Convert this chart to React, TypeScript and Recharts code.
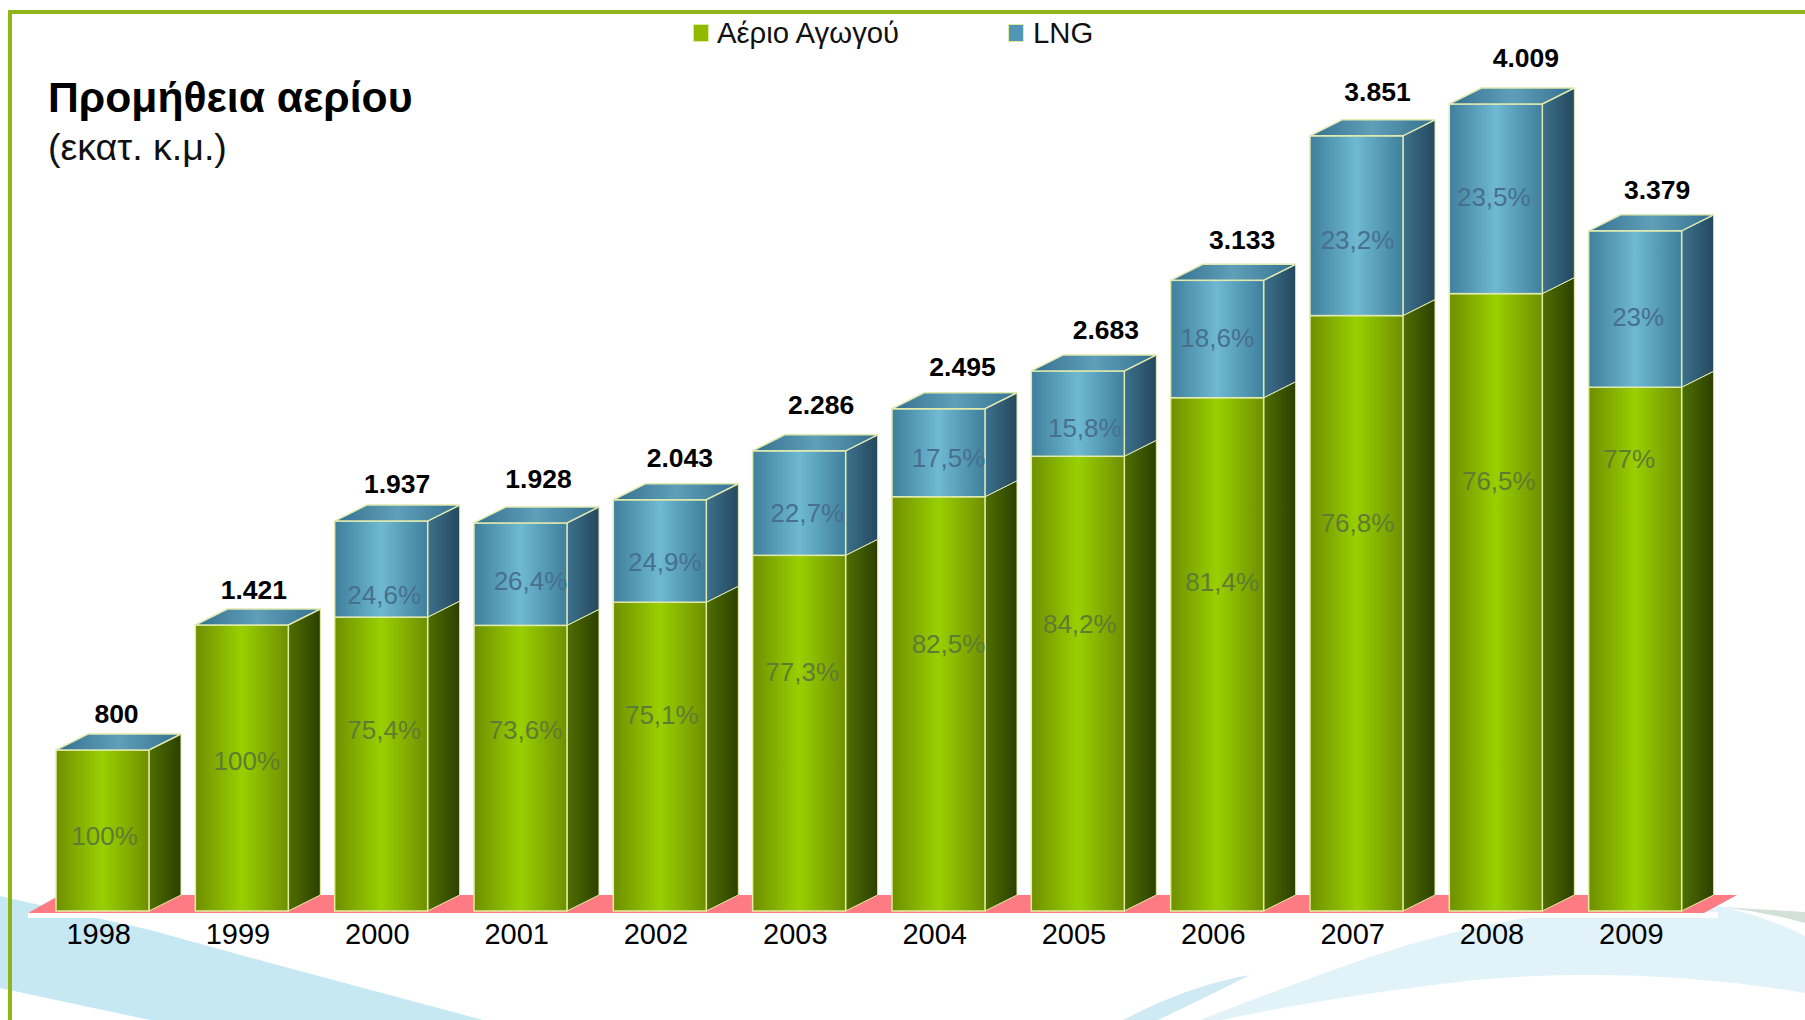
import { Bar, BarChart, XAxis, YAxis } from "recharts";

const years = ["1998", "1999", "2000", "2001", "2002", "2003", "2004", "2005", "2006", "2007", "2008", "2009"];
const pipeline = [800, 1421, 1460, 1419, 1534, 1767, 2058, 2259, 2550, 2958, 3067, 2602];
const lng = [0, 0, 477, 509, 509, 519, 437, 424, 583, 893, 942, 777];
const totals = ["800", "1.421", "1.937", "1.928", "2.043", "2.286", "2.495", "2.683", "3.133", "3.851", "4.009", "3.379"];
const pipelinePct = ["100%", "100%", "75,4%", "73,6%", "75,1%", "77,3%", "82,5%", "84,2%", "81,4%", "76,8%", "76,5%", "77%"];
const lngPct = ["", "", "24,6%", "26,4%", "24,9%", "22,7%", "17,5%", "15,8%", "18,6%", "23,2%", "23,5%", "23%"];

// the labels sit by hand on the original slide, not centred
const pipeNudgeX = [2, 5, 3, 5, 2, 3, 10, 2, 5, 1, 3, -6];
const pipeNudgeY = [8, -5, -32, -36, -39, -59, -58, -58, -70, -88, -119, -188];
const lngNudgeX = [0, 0, 3, 10, 5, 8, 10, 7, 0, 1, -2, 3];
const lngNudgeY = [0, 0, 28, 9, 13, 12, 7, 17, 1, 16, 0, 10];
const totalNudgeX = [14, 12, 16, 18, 20, 22, 24, 28, 25, 21, 30, 22];
const totalNudgeY = [-34, -33, -35, -42, -40, -44, -40, -39, -38, -42, -44, -39];

const chartData = years.map((year, i) => ({ year, pipeline: pipeline[i], lng: lng[i], i }));

const DX = 32;
const DY = 16;
const font = "Liberation Sans, Arial, sans-serif";

function Gradients() {
  const stops = (id: string, edge: string, mid: string) => (
    <linearGradient id={id} x1="0" y1="0" x2="1" y2="0">
      <stop offset="0" stopColor={edge} />
      <stop offset="0.5" stopColor={mid} />
      <stop offset="1" stopColor={edge} />
    </linearGradient>
  );
  return (
    <defs>
      {stops("greenFront", "#6f8f00", "#99d000")}
      {stops("blueFront", "#3f7f9c", "#6fb9d2")}
      <linearGradient id="greenSide" x1="0" y1="0" x2="1" y2="0">
        <stop offset="0" stopColor="#4f6f00" />
        <stop offset="1" stopColor="#2c4000" />
      </linearGradient>
      <linearGradient id="blueSide" x1="0" y1="0" x2="1" y2="0">
        <stop offset="0" stopColor="#3d718c" />
        <stop offset="1" stopColor="#24485e" />
      </linearGradient>
      <linearGradient id="topFace" x1="0" y1="0" x2="1" y2="0">
        <stop offset="0" stopColor="#35708f" />
        <stop offset="0.5" stopColor="#5f9fb8" />
        <stop offset="1" stopColor="#35708f" />
      </linearGradient>
    </defs>
  );
}

function Box3D(props: any, front: string, side: string, edge: string) {
  const { x, y, width, height } = props;
  return (
    <g>
      <path
        d={`M${x + width},${y} l${DX},${-DY} v${height} l${-DX},${DY} z`}
        fill={`url(#${side})`}
        stroke={edge}
        strokeWidth={1}
      />
      <rect x={x} y={y} width={width} height={height} fill={`url(#${front})`} stroke={edge} strokeWidth={1.5} />
    </g>
  );
}

function PipelineBar(props: any) {
  const i = props.payload.i;
  const cx = props.x + props.width / 2;
  return (
    <g>
      {Box3D(props, "greenFront", "greenSide", "#e4eea0")}
      <text
        x={cx + pipeNudgeX[i]}
        y={props.y + props.height / 2 + pipeNudgeY[i]}
        textAnchor="middle"
        dominantBaseline="middle"
        fontFamily={font}
        fontSize={26}
        fill="#5f7c32"
      >
        {pipelinePct[i]}
      </text>
    </g>
  );
}

function LngBar(props: any) {
  const { x, y, width, height } = props;
  const i = props.payload.i;
  const cx = x + width / 2;
  return (
    <g>
      {height > 0 && Box3D(props, "blueFront", "blueSide", "#dfe9b0")}
      <path
        d={`M${x},${y} l${DX},${-DY} h${width} l${-DX},${DY} z`}
        fill="url(#topFace)"
        stroke="#dfe9b0"
        strokeWidth={1.5}
      />
      {lngPct[i] && (
        <text
          x={cx + lngNudgeX[i]}
          y={y + height / 2 + lngNudgeY[i]}
          textAnchor="middle"
          dominantBaseline="middle"
          fontFamily={font}
          fontSize={26}
          fill="#47708f"
        >
          {lngPct[i]}
        </text>
      )}
      <text
        x={cx + totalNudgeX[i]}
        y={y + totalNudgeY[i]}
        textAnchor="middle"
        dominantBaseline="middle"
        fontFamily={font}
        fontSize={26.5}
        fontWeight="bold"
        fill="#000"
      >
        {totals[i]}
      </text>
    </g>
  );
}

function Backdrop() {
  return (
    <svg width={1805} height={1020} style={{ position: "absolute", left: 0, top: 0 }}>
      <path d="M0,896 L150,930 L270,963 L483,1020 L150,1020 L0,988 Z" fill="#c5e8f2" />
      <path d="M1200,1020 Q1290,985 1370,957 Q1450,930 1531,917 Q1640,900 1720,906 Q1770,918 1805,936 L1805,993 Q1640,965 1475,980 Q1340,995 1221,1020 Z" fill="#e1f3f9" />
      <path d="M1123,1020 Q1190,985 1250,975 Q1190,1005 1158,1020 Z" fill="#cfeaf3" />
      <path d="M1722,907 Q1770,910 1805,912 L1805,923 Q1765,912 1722,907 Z" fill="#d3e0d8" />
      <rect x={28} y={912} width={1690} height={6} fill="#fff" />
      <path d="M28,913 L60,895 L1737,895 L1704,913 Z" fill="#ff7b84" />
      <path d="M10,1020 L10,12 L1805,12" fill="none" stroke="#8fb51a" strokeWidth={4} />
    </svg>
  );
}

export default function App() {
  return (
    <div style={{ position: "absolute", left: 0, top: 0, width: 1805, height: 1020, background: "#fff", overflow: "hidden" }}>
      <Backdrop />
      <div style={{ position: "absolute", left: 0, top: 0 }}>
        <BarChart
          width={1805}
          height={1020}
          data={chartData}
          barCategoryGap={23}
          margin={{ top: 104, right: 100, bottom: 49, left: 33 }}
          style={{ background: "transparent" }}
        >
          <Gradients />
          <XAxis
            dataKey="year"
            axisLine={false}
            tickLine={false}
            tick={{ fontSize: 29, fontFamily: font, fill: "#000", dx: -4, dy: 4 }}
            height={60}
          />
          <YAxis hide domain={[0, 4009]} />
          <Bar dataKey="pipeline" stackId="a" isAnimationActive={false} shape={PipelineBar} />
          <Bar dataKey="lng" stackId="a" isAnimationActive={false} shape={LngBar} />
        </BarChart>
      </div>

      <div style={{ position: "absolute", left: 693, top: 24, width: 16, height: 18, background: "#8fba00", border: "1px solid #dfe9a0", boxSizing: "border-box" }} />
      <div style={{ position: "absolute", left: 717, top: 16, fontFamily: font, fontSize: 29.3, color: "#111" }}>Αέριο Αγωγού</div>
      <div style={{ position: "absolute", left: 1008, top: 24, width: 16, height: 18, background: "#4f97b5", border: "1px solid #dfe9a0", boxSizing: "border-box" }} />
      <div style={{ position: "absolute", left: 1033, top: 16, fontFamily: font, fontSize: 29.3, color: "#111" }}>LNG</div>
      <div style={{ position: "absolute", left: 48, top: 73, fontFamily: font, fontSize: 42.7, fontWeight: "bold", color: "#000" }}>Προμήθεια αερίου</div>
      <div style={{ position: "absolute", left: 48, top: 126, fontFamily: font, fontSize: 37.6, color: "#111" }}>(εκατ. κ.μ.)</div>
    </div>
  );
}
